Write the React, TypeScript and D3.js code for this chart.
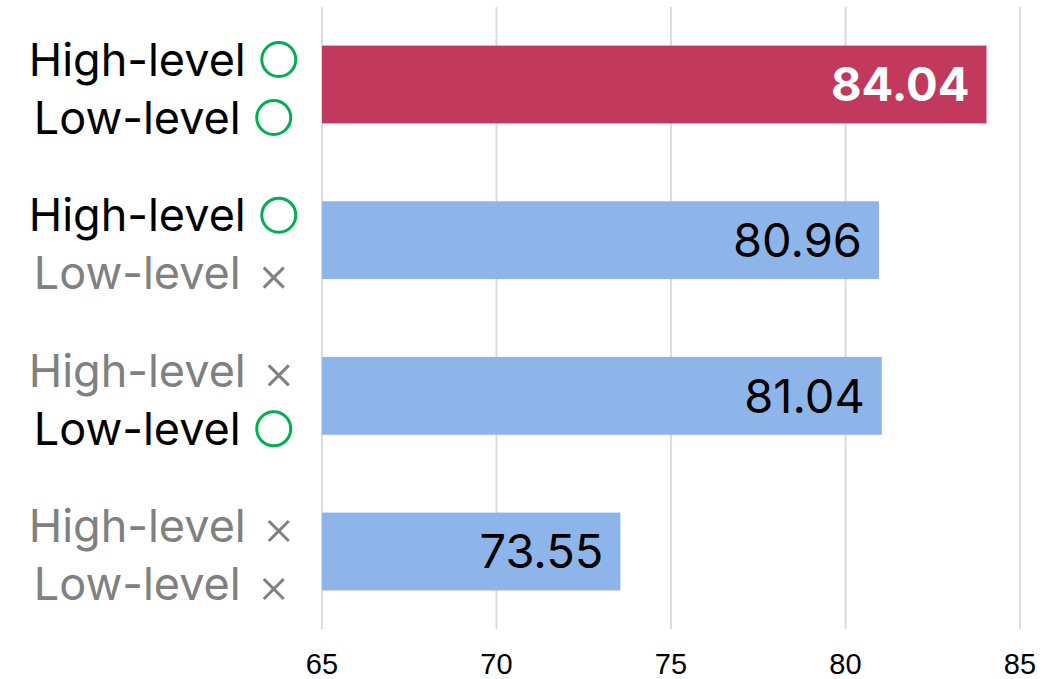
import React, { useEffect, useRef } from "react";
import * as d3 from "d3";

// Ablation results: which guidance levels are enabled, and the resulting score
const categories = ["both", "highOnly", "lowOnly", "none"];
const highLevelOn = [true, true, false, false];
const lowLevelOn = [true, false, true, false];
const scores = [84.04, 80.96, 81.04, 73.55];
const highlighted = [true, false, false, false];
const xTicks = [65, 70, 75, 80, 85];

const WIDTH = 1056;
const HEIGHT = 679;
const FONT = "Inter, 'Noto Sans', sans-serif";

export default function App() {
  const ref = useRef<SVGSVGElement | null>(null);

  useEffect(() => {
    const svg = d3.select(ref.current);
    svg.selectAll("*").remove();

    const x = d3.scaleLinear().domain([65, 85]).range([322, 1020]);
    const y = d3.scaleBand<string>().domain(categories).range([7, 629]).paddingInner(0.5).paddingOuter(0.248);

    // vertical gridlines
    svg.append("g")
      .selectAll("line")
      .data(xTicks)
      .join("line")
      .attr("x1", (d) => x(d))
      .attr("x2", (d) => x(d))
      .attr("y1", 7)
      .attr("y2", 629)
      .attr("stroke", "#dcdcdc")
      .attr("stroke-width", 2);

    // tick labels
    svg.append("g")
      .selectAll("text")
      .data(xTicks)
      .join("text")
      .attr("x", (d) => x(d))
      .attr("y", 674)
      .attr("text-anchor", "middle")
      .attr("font-family", "'Liberation Sans', Arial, sans-serif")
      .attr("font-size", 29)
      .attr("fill", "#000")
      .text((d) => String(d));

    // bars
    svg.append("g")
      .selectAll("rect")
      .data(categories)
      .join("rect")
      .attr("x", x(65))
      .attr("y", (d) => y(d)!)
      .attr("width", (_, i) => x(scores[i]) - x(65))
      .attr("height", y.bandwidth())
      .attr("fill", (_, i) => (highlighted[i] ? "#c1395c" : "#8eb5ea"));

    // value labels inside bars
    svg.append("g")
      .selectAll("text")
      .data(categories)
      .join("text")
      .attr("x", (_, i) => x(scores[i]) - 17)
      .attr("y", (d) => y(d)! + y.bandwidth() / 2)
      .attr("dy", "0.36em")
      .attr("text-anchor", "end")
      .attr("font-family", FONT)
      .attr("font-size", 47)
      .attr("font-weight", (_, i) => (highlighted[i] ? 700 : 400))
      .attr("fill", (_, i) => (highlighted[i] ? "#fff" : "#000"))
      .text((_, i) => scores[i].toFixed(2));

    // two-line category labels with on/off markers
    const centerX = 163;
    const symbolOffset = 33;
    const symbolHalf = 18.5;
    categories.forEach((c, i) => {
      const mid = y(c)! + y.bandwidth() / 2;
      const lines = [
        { text: "High-level", on: highLevelOn[i], base: mid - 9 },
        { text: "Low-level", on: lowLevelOn[i], base: mid + 49 },
      ];
      lines.forEach((ln) => {
        const color = ln.on ? "#000" : "#808080";
        const t = svg
          .append("text")
          .attr("y", ln.base)
          .attr("font-family", FONT)
          .attr("font-size", 45)
          .attr("fill", color)
          .text(ln.text);
        const w = (t.node() as SVGTextElement).getComputedTextLength();
        const total = w + symbolOffset + symbolHalf;
        const start = centerX - total / 2;
        t.attr("x", start);
        const sx = start + w + symbolOffset;
        if (ln.on) {
          svg.append("circle")
            .attr("cx", sx)
            .attr("cy", ln.base - 16)
            .attr("r", 17)
            .attr("fill", "none")
            .attr("stroke", "#00b050")
            .attr("stroke-width", 3);
        } else {
          const h = 10;
          const cy = ln.base - 11.5;
          const g = svg.append("g").attr("stroke", "#808080").attr("stroke-width", 3);
          g.append("line").attr("x1", sx - h).attr("y1", cy - h).attr("x2", sx + h).attr("y2", cy + h);
          g.append("line").attr("x1", sx - h).attr("y1", cy + h).attr("x2", sx + h).attr("y2", cy - h);
        }
      });
    });
  }, []);

  return (
    <svg
      ref={ref}
      width={WIDTH}
      height={HEIGHT}
      style={{ position: "absolute", left: 0, top: 0, background: "#fff" }}
    />
  );
}
